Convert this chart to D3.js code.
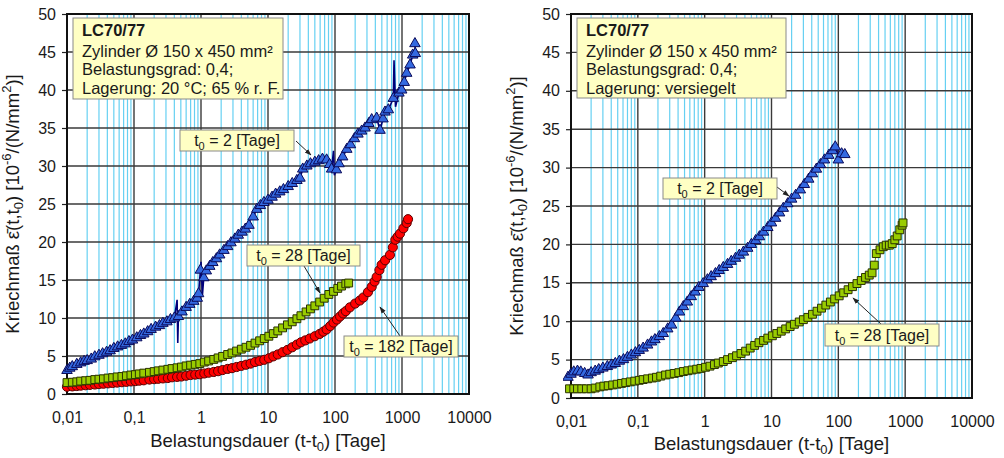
<!DOCTYPE html>
<html>
<head>
<meta charset="utf-8">
<script src="https://cdn.jsdelivr.net/npm/d3@7/dist/d3.min.js"></script>
<style>
  body { margin: 0; background: #fff; }
  svg { display: block; }
  text { font-family: "Liberation Sans", Arial, sans-serif; fill: #1a1a1a; }
</style>
</head>
<body>
<svg id="chart" width="1004" height="458"></svg>
<script>
// ---- axis ticks ----
const xTickValues = [0.01, 0.1, 1, 10, 100, 1000, 10000];
const xTickLabels = ["0,01", "0,1", "1", "10", "100", "1000", "10000"];
const yTickValues = [0, 5, 10, 15, 20, 25, 30, 35, 40, 45, 50];
const yTickLabels = ["0", "5", "10", "15", "20", "25", "30", "35", "40", "45", "50"];

// ---- creep coefficient series: [load duration t-t0 in days, value, (0 = reading without marker)] ----
// storage 20 °C / 65 % r.h., t0 = 2 days
const dryT2 = [
  [0.010,3.1],[0.011,3.4],[0.012,3.6],[0.014,3.9],[0.016,4.1],[0.018,4.3],[0.020,4.4],[0.023,4.6],
  [0.026,4.9],[0.030,5.1],[0.034,5.3],[0.039,5.5],[0.044,5.7],[0.050,6.0],[0.057,6.2],[0.065,6.4],
  [0.074,6.6],[0.084,6.9],[0.095,7.1],[0.11,7.4],[0.125,7.7],[0.14,7.9],[0.16,8.2],[0.18,8.5],
  [0.21,8.8],[0.24,9.0],[0.27,9.3],[0.31,9.5],[0.35,9.8],[0.40,10.0],[0.44,12.4,0],[0.45,6.7,0],
  [0.46,10.2],[0.52,10.8],[0.60,11.4],[0.68,11.8],[0.78,12.2],[0.88,12.6],[0.92,13.2],[0.98,16.3],
  [1.0,17.4,0],[1.05,13.0,0],[1.1,15.3],[1.2,16.2],[1.35,16.8],[1.5,17.3],[1.7,17.8],[1.9,18.3],
  [2.2,18.9],[2.5,19.4],[2.8,19.9],[3.2,20.4],[3.6,20.9],[4.1,21.3],[4.6,21.7],[5.2,22.2],
  [5.5,23.4,0],[6.0,23.3],[6.8,24.3],[7.7,24.8],[8.7,25.2],[10,25.5],[11.5,25.9],[13,26.3],
  [15,26.6],[17,26.9],[20,27.3],[23,27.7],[27,28.1],[30,28.4],[33,29.6],[38,30.0],[43,30.3],
  [50,30.5],[57,30.7],[65,30.9],[75,30.8],[83,30.2],[89,29.6],[95,32.0,0],[98,28.8,0],[105,29.5],
  [115,30.3],[130,31.2],[150,32.2],[170,32.8],[195,33.6],[220,34.2],[250,34.6],[281,35.0],
  [320,35.6],[353,36.1],[419,36.3],[470,34.7],[520,36.2],[558,37.1],[625,37.4],[742,38.9],
  [760,43.9,0],[800,37.8,0],[900,39.6],[989,40.0],[1080,41.0],[1175,42.2],[1318,43.3],
  [1445,44.6],[1580,44.8],[1560,46.1]
];
// storage 20 °C / 65 % r.h., t0 = 28 days
const dryT28 = [
  [0.010,1.5],[0.012,1.55],[0.014,1.6],[0.016,1.7],[0.019,1.75],[0.022,1.8],[0.026,1.9],[0.030,1.95],
  [0.035,2.0],[0.041,2.1],[0.048,2.15],[0.056,2.25],[0.066,2.3],[0.077,2.4],[0.090,2.5],[0.105,2.55],
  [0.12,2.65],[0.14,2.75],[0.17,2.85],[0.20,2.95],[0.23,3.05],[0.27,3.15],[0.32,3.25],[0.37,3.35],
  [0.44,3.45],[0.51,3.55],[0.60,3.7],[0.70,3.8],[0.82,3.9],[0.96,4.0],[1.12,4.2],[1.3,4.35],
  [1.55,4.55],[1.8,4.75],[2.1,4.95],[2.5,5.2],[2.9,5.4],[3.4,5.65],[4.0,5.9],[4.7,6.15],
  [5.5,6.4],[6.4,6.7],[7.5,7.0],[8.8,7.3],[10.3,7.6],[12,7.95],[14,8.3],[16.5,8.7],[19.5,9.1],
  [23,9.5],[27,9.9],[31,10.3],[37,10.8],[43,11.2],[50,11.6],[59,12.1],[69,12.6],[81,13.1],
  [95,13.5],[110,13.9],[125,14.2],[145,14.5],[160,14.6]
];
// storage 20 °C / 65 % r.h., t0 = 182 days
const dryT182 = [
  [0.010,0.95],[0.012,1.0],[0.014,1.05],[0.016,1.1],[0.019,1.15],[0.022,1.2],[0.026,1.25],[0.030,1.3],
  [0.035,1.35],[0.041,1.4],[0.048,1.45],[0.056,1.5],[0.066,1.55],[0.077,1.6],[0.090,1.65],[0.105,1.7],
  [0.12,1.75],[0.14,1.8],[0.17,1.9],[0.20,1.95],[0.23,2.0],[0.27,2.05],[0.32,2.1],[0.37,2.2],
  [0.44,2.25],[0.51,2.3],[0.60,2.4],[0.70,2.5],[0.82,2.55],[0.96,2.6],[1.12,2.7],[1.3,2.8],
  [1.55,2.9],[1.8,3.0],[2.1,3.15],[2.5,3.3],[2.9,3.4],[3.4,3.55],[4.0,3.7],[4.7,3.85],[5.5,4.0],
  [6.4,4.2],[7.5,4.35],[8.8,4.5],[10.3,4.7],[12,4.95],[14,5.2],[16.5,5.5],[19.5,5.8],[23,6.15],
  [27,6.5],[31,6.8],[36,7.05],[42,7.3],[50,7.6],[59,7.9],[67,8.2],[75,8.5],[85,8.95],[95,9.4],
  [107,9.8],[119,10.2],[132,10.6],[145,10.9],[167,11.4],[200,11.9],[235,12.3],[265,12.7],
  [310,13.4],[353,14.1],[390,14.8],[419,15.4],[460,16.3],[497,17.0],[560,17.6],[661,18.3],
  [730,19.3],[795,20.3],[860,20.7],[933,21.1],[1050,21.8],[1175,22.5],[1230,23.0]
];
// sealed storage, t0 = 2 days
const sealedT2 = [
  [0.009,2.7],[0.010,3.1],[0.011,3.4],[0.0125,3.5],[0.014,3.4],[0.016,3.2],[0.018,3.0],[0.020,3.3],
  [0.023,3.5],[0.026,3.7],[0.030,3.9],[0.035,4.1],[0.040,4.3],[0.046,4.5],[0.053,4.8],[0.061,5.0],
  [0.070,5.3],[0.080,5.6],[0.092,5.9],[0.105,6.2],[0.12,6.5],[0.14,6.9],[0.16,7.3],[0.18,7.6],
  [0.21,8.0],[0.24,8.4],[0.28,9.0],[0.32,9.5],[0.37,10.4],[0.42,11.2],[0.48,11.9],[0.55,12.5],
  [0.63,13.2],[0.72,13.8],[0.82,14.4],[0.95,14.9],[1.1,15.4],[1.25,15.8],[1.45,16.2],[1.65,16.6],
  [1.9,17.0],[2.2,17.4],[2.5,17.8],[2.9,18.2],[3.3,18.6],[3.8,19.0],[4.4,19.5],[5.0,20.0],
  [5.8,20.5],[6.6,21.0],[7.6,21.6],[8.8,22.2],[10,22.8],[11.5,23.4],[13.2,24.1],[15,24.7],
  [17.5,25.3],[20,25.9],[23,26.4],[27,27.1],[31,27.8],[36,28.5],[41,29.2],[47,29.8],[54,30.4],
  [62,31.0],[72,31.6],[82,32.2],[90,32.7],[92,33.2,0],[100,31.0],[112,31.8],[125,31.7]
];
// sealed storage, t0 = 28 days
const sealedT28 = [
  [0.0095,1.2],[0.011,1.2],[0.0125,1.2],[0.0145,1.2],[0.017,1.2],[0.020,1.2],[0.023,1.3],[0.027,1.45],
  [0.031,1.55],[0.036,1.6],[0.042,1.7],[0.049,1.8],[0.057,1.9],[0.066,2.0],[0.077,2.1],[0.090,2.2],
  [0.105,2.3],[0.12,2.4],[0.14,2.5],[0.165,2.6],[0.19,2.7],[0.22,2.85],[0.26,3.0],[0.30,3.1],
  [0.35,3.2],[0.41,3.3],[0.48,3.45],[0.56,3.55],[0.65,3.65],[0.76,3.75],[0.88,3.85],[1.03,4.0],
  [1.2,4.15],[1.4,4.35],[1.6,4.55],[1.9,4.75],[2.2,5.0],[2.6,5.25],[3.0,5.5],[3.5,5.8],[4.1,6.1],
  [4.8,6.5],[5.6,6.85],[6.5,7.2],[7.6,7.5],[8.8,7.8],[10.3,8.1],[12,8.4],[14,8.7],[16.3,9.0],
  [19,9.3],[22,9.6],[26,9.9],[30,10.2],[35,10.5],[41,10.9],[48,11.3],[56,11.7],[65,12.1],
  [76,12.5],[88,12.9],[103,13.3],[120,13.7],[140,14.1],[163,14.5],[190,14.9],[220,15.3],
  [255,15.7],[290,16.0],[320,16.3],[345,17.3],[370,18.8],[420,19.3],[470,19.7],[520,19.9],
  [580,19.9],[640,20.1],[700,20.6],[760,21.1],[830,21.9],[900,22.5],[930,22.8]
];

// ---- series styles ----
const styles = {
  t2:   { symbol: d3.symbolTriangle, size: 48, fill: "#3469e0", stroke: "#0a0a5a", line: "#00007a", lineWidth: 1.6 },
  t28:  { symbol: d3.symbolSquare,   size: 62, fill: "#99cc00", stroke: "#2b3300", line: "#6a9a00", lineWidth: 1 },
  t182: { symbol: d3.symbolCircle,   size: 66, fill: "#ff0000", stroke: "#5a0000", line: "#ff00ff", lineWidth: 1 }
};

// ---- panels ----
const panels = [
  {
    x0: 67, x1: 469, y0: 394, y1: 14, yTitleX: 19, xTitleY: 447, xTickY: 424,
    info: { x: 73, y: 18, w: 210, h: 81,
            lines: ["LC70/77", "Zylinder Ø 150 x 450 mm²", "Belastungsgrad: 0,4;", "Lagerung: 20 °C; 65 % r. F."] },
    series: [
      { data: dryT182, style: styles.t182 },
      { data: dryT28, style: styles.t28 },
      { data: dryT2, style: styles.t2 }
    ],
    labels: [
      { t0: "2",   x: 180, y: 130, w: 114, h: 21, ax0: 296, ay0: 141, ax1: 311, ay1: 155 },
      { t0: "28",  x: 247, y: 245, w: 113, h: 21, ax0: 304, ay0: 266, ax1: 320, ay1: 293 },
      { t0: "182", x: 344, y: 336, w: 114, h: 21, ax0: 400, ay0: 336, ax1: 380, ay1: 307 }
    ]
  },
  {
    x0: 571, x1: 972, y0: 398, y1: 14, yTitleX: 523, xTitleY: 450, xTickY: 428,
    info: { x: 577, y: 18, w: 209, h: 80,
            lines: ["LC70/77", "Zylinder Ø 150 x 450 mm²", "Belastungsgrad: 0,4;", "Lagerung: versiegelt"] },
    series: [
      { data: sealedT28, style: styles.t28 },
      { data: sealedT2, style: styles.t2 }
    ],
    labels: [
      { t0: "2",  x: 663, y: 178, w: 114, h: 21, ax0: 777, ay0: 187, ax1: 789, ay1: 196 },
      { t0: "28", x: 825, y: 324, w: 114, h: 22, ax0: 881, ay0: 324, ax1: 853, ay1: 298 }
    ]
  }
];

const svg = d3.select("#chart");
const defs = svg.append("defs");
defs.append("marker")
  .attr("id", "arrow").attr("viewBox", "0 0 10 10").attr("refX", 9).attr("refY", 5)
  .attr("markerWidth", 7).attr("markerHeight", 7).attr("orient", "auto")
  .append("path").attr("d", "M0,1.5 L10,5 L0,8.5 Z").attr("fill", "#222");

panels.forEach((p, i) => {
  const g = svg.append("g");
  const x = d3.scaleLog().domain([0.01, 10000]).range([p.x0, p.x1]);
  const y = d3.scaleLinear().domain([0, 50]).range([p.y0, p.y1]);

  defs.append("clipPath").attr("id", "clip" + i)
    .append("rect").attr("x", p.x0 - 8).attr("y", p.y1 - 8)
    .attr("width", p.x1 - p.x0 + 16).attr("height", p.y0 - p.y1 + 16);

  // minor log grid (2..9 per decade)
  const minor = x.ticks().filter(v => !xTickValues.includes(v));
  g.append("g").selectAll("line").data(minor).join("line")
    .attr("x1", d => x(d)).attr("x2", d => x(d))
    .attr("y1", p.y1).attr("y2", p.y0)
    .attr("stroke", "#66d0f2").attr("stroke-width", 1.2);

  // major grid
  g.append("g").selectAll("line").data(yTickValues).join("line")
    .attr("x1", p.x0).attr("x2", p.x1)
    .attr("y1", d => y(d)).attr("y2", d => y(d))
    .attr("stroke", "#3a3a3a").attr("stroke-width", 1.4);
  g.append("g").selectAll("line").data(xTickValues).join("line")
    .attr("x1", d => x(d)).attr("x2", d => x(d))
    .attr("y1", p.y1).attr("y2", p.y0)
    .attr("stroke", "#3a3a3a").attr("stroke-width", 1.4);

  // y axis with outside ticks
  const yAxis = d3.axisLeft(y).tickValues(yTickValues)
    .tickFormat((d, k) => yTickLabels[k]).tickSize(5).tickPadding(6);
  const ya = g.append("g").attr("transform", `translate(${p.x0},0)`).call(yAxis);
  ya.select(".domain").remove();
  ya.selectAll(".tick line").attr("stroke", "#222").attr("stroke-width", 1.2);
  ya.selectAll("text").attr("font-size", 16).attr("fill", "#1a1a1a")
    .attr("font-family", "'Liberation Sans', Arial, sans-serif");

  // x axis labels
  const xAxis = d3.axisBottom(x).tickValues(xTickValues)
    .tickFormat((d, k) => xTickLabels[k]).tickSize(0).tickPadding(0);
  const xa = g.append("g").attr("transform", `translate(0,${p.xTickY - 12})`).call(xAxis);
  xa.select(".domain").remove();
  xa.selectAll("text").attr("font-size", 16).attr("fill", "#1a1a1a")
    .attr("font-family", "'Liberation Sans', Arial, sans-serif").attr("dy", "0.71em");

  // plot frame
  g.append("rect").attr("x", p.x0).attr("y", p.y1)
    .attr("width", p.x1 - p.x0).attr("height", p.y0 - p.y1)
    .attr("fill", "none").attr("stroke", "#111").attr("stroke-width", 2);

  // series
  const plot = g.append("g").attr("clip-path", `url(#clip${i})`);
  p.series.forEach(s => {
    const line = d3.line().x(d => x(d[0])).y(d => y(d[1]));
    plot.append("path").datum(s.data).attr("d", line)
      .attr("fill", "none").attr("stroke", s.style.line).attr("stroke-width", s.style.lineWidth)
      .attr("stroke-linejoin", "miter");
    const sym = d3.symbol().type(s.style.symbol).size(s.style.size);
    plot.append("g").selectAll("path").data(s.data.filter(d => d[2] !== 0)).join("path")
      .attr("transform", d => `translate(${x(d[0])},${y(d[1])})`)
      .attr("d", sym)
      .attr("fill", s.style.fill).attr("stroke", s.style.stroke).attr("stroke-width", 1);
  });

  // info box
  const ib = g.append("g");
  ib.append("rect").attr("x", p.info.x).attr("y", p.info.y).attr("width", p.info.w).attr("height", p.info.h)
    .attr("fill", "#ffffc4").attr("stroke", "#8a8a8a").attr("stroke-width", 1);
  const baselines = [18, 39, 57, 76];
  p.info.lines.forEach((t, k) => {
    ib.append("text").attr("x", p.info.x + 9).attr("y", p.info.y + baselines[k])
      .attr("font-size", 16.5).attr("font-weight", k === 0 ? "bold" : "normal").text(t);
  });

  // series labels with arrows
  p.labels.forEach(l => {
    g.append("line").attr("x1", l.ax0).attr("y1", l.ay0).attr("x2", l.ax1).attr("y2", l.ay1)
      .attr("stroke", "#222").attr("stroke-width", 1).attr("marker-end", "url(#arrow)");
    g.append("rect").attr("x", l.x).attr("y", l.y).attr("width", l.w).attr("height", l.h)
      .attr("fill", "#ffffc4").attr("stroke", "#8a8a8a").attr("stroke-width", 1);
    const t = g.append("text").attr("x", l.x + l.w / 2).attr("y", l.y + l.h / 2 + 5.5)
      .attr("text-anchor", "middle").attr("font-size", 16);
    t.append("tspan").text("t");
    t.append("tspan").attr("font-size", 11).attr("dy", 4).text("0");
    t.append("tspan").attr("dy", -4).text(` = ${l.t0} [Tage]`);
  });

  // axis titles
  const xt = g.append("text").attr("x", (p.x0 + p.x1) / 2).attr("y", p.xTitleY)
    .attr("text-anchor", "middle").attr("font-size", 18.5);
  xt.append("tspan").text("Belastungsdauer (t-t");
  xt.append("tspan").attr("font-size", 13).attr("dy", 4).text("0");
  xt.append("tspan").attr("dy", -4).text(") [Tage]");

  const yt = g.append("text")
    .attr("transform", `translate(${p.yTitleX},${(p.y0 + p.y1) / 2}) rotate(-90)`)
    .attr("text-anchor", "middle").attr("font-size", 18.5);
  yt.append("tspan").text("Kriechmaß ε\u0304(t,t");
  yt.append("tspan").attr("font-size", 13).attr("dy", 4).text("0");
  yt.append("tspan").attr("dy", -4).text(") [10");
  yt.append("tspan").attr("font-size", 13).attr("dy", -8).text("-6");
  yt.append("tspan").attr("dy", 8).text("/(N/mm");
  yt.append("tspan").attr("font-size", 13).attr("dy", -8).text("2");
  yt.append("tspan").attr("dy", 8).text(")]");
});
</script>
</body>
</html>
